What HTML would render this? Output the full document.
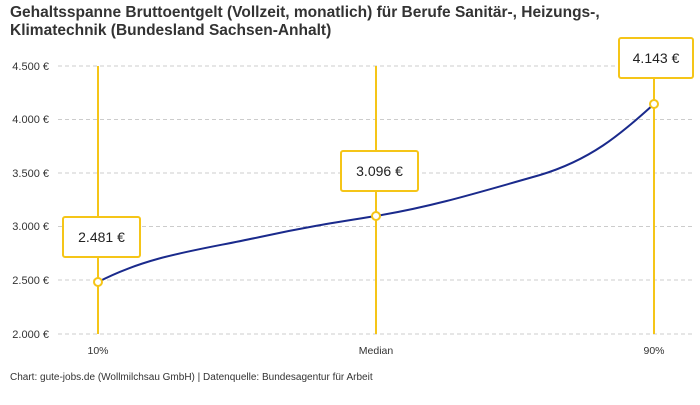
<!DOCTYPE html>
<html><head><meta charset="utf-8"><style>
body{margin:0;background:#fff;width:700px;height:400px;overflow:hidden;font-family:"Liberation Sans",sans-serif}
</style></head><body>
<svg width="700" height="400" xmlns="http://www.w3.org/2000/svg" font-family="Liberation Sans, sans-serif">
<text x="10" y="17" font-size="15.5" font-weight="bold" fill="#333">Gehaltsspanne Bruttoentgelt (Vollzeit, monatlich) für Berufe Sanitär-, Heizungs-,</text>
<text x="10" y="35" font-size="15.5" font-weight="bold" fill="#333">Klimatechnik (Bundesland Sachsen-Anhalt)</text>
<g stroke="#ccc" stroke-dasharray="4,3" stroke-width="1">
<line x1="58" y1="66" x2="695" y2="66"/>
<line x1="58" y1="119.5" x2="695" y2="119.5"/>
<line x1="58" y1="173" x2="695" y2="173"/>
<line x1="58" y1="226.5" x2="695" y2="226.5"/>
<line x1="58" y1="280" x2="695" y2="280"/>
<line x1="58" y1="334" x2="695" y2="334"/>
</g>
<g font-size="11" fill="#333" text-anchor="end">
<text x="49" y="70">4.500 €</text>
<text x="49" y="123">4.000 €</text>
<text x="49" y="177">3.500 €</text>
<text x="49" y="230">3.000 €</text>
<text x="49" y="284">2.500 €</text>
<text x="49" y="338">2.000 €</text>
</g>
<g stroke="#f5c518" stroke-width="2">
<line x1="98" y1="66" x2="98" y2="334"/>
<line x1="376" y1="66" x2="376" y2="334"/>
<line x1="654" y1="66" x2="654" y2="334"/>
</g>
<g font-size="10.5" fill="#333" text-anchor="middle">
<text x="98" y="354">10%</text>
<text x="376" y="354">Median</text>
<text x="654" y="354">90%</text>
</g>
<path d="M98,282 C150,255 200,250 260,237 C310,226 345,221 376,216 C430,207 470,195 540,175 C590,160 620,135 654,104" fill="none" stroke="#1a2a8c" stroke-width="2"/>
<g fill="#fff" stroke="#f5c518" stroke-width="2">
<circle cx="98" cy="282" r="4"/>
<circle cx="376" cy="216" r="4"/>
<circle cx="654" cy="104" r="4"/>
<rect x="63" y="217" width="77" height="40" rx="2"/>
<rect x="341" y="151" width="77" height="40" rx="2"/>
<rect x="619" y="38" width="74" height="40" rx="2"/>
</g>
<g font-size="14" fill="#222" text-anchor="middle">
<text x="101.5" y="242">2.481 €</text>
<text x="379.5" y="176">3.096 €</text>
<text x="656" y="63">4.143 €</text>
</g>
<text x="10" y="380" font-size="10" fill="#333">Chart: gute-jobs.de (Wollmilchsau GmbH) | Datenquelle: Bundesagentur für Arbeit</text>
</svg>
</body></html>
